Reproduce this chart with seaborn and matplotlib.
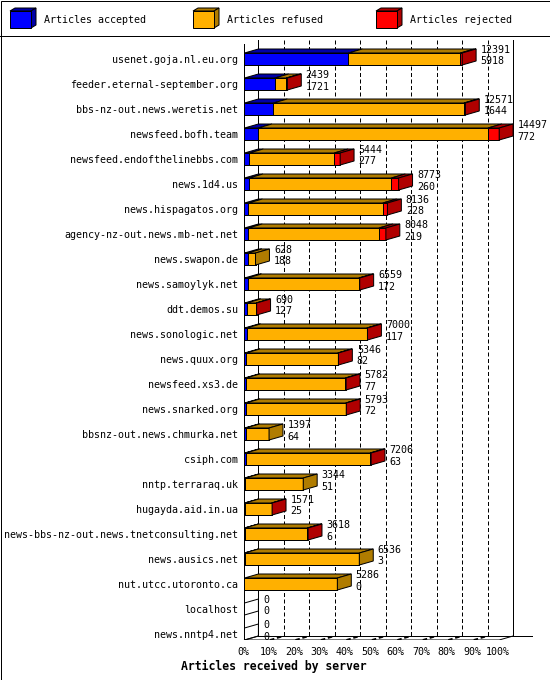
import matplotlib
matplotlib.use('Agg')
import matplotlib.pyplot as plt
import pandas as pd
import seaborn as sns
from matplotlib.patches import Polygon, Rectangle

# innreport style "articles received by server" chart
servers = ['usenet.goja.nl.eu.org', 'feeder.eternal-september.org',
           'bbs-nz-out.news.weretis.net', 'newsfeed.bofh.team',
           'newsfeed.endofthelinebbs.com', 'news.1d4.us', 'news.hispagatos.org',
           'agency-nz-out.news.mb-net.net', 'news.swapon.de', 'news.samoylyk.net',
           'ddt.demos.su', 'news.sonologic.net', 'news.quux.org', 'newsfeed.xs3.de',
           'news.snarked.org', 'bbsnz-out.news.chmurka.net', 'csiph.com',
           'nntp.terraraq.uk', 'hugayda.aid.in.ua',
           'news-bbs-nz-out.news.tnetconsulting.net', 'news.ausics.net',
           'nut.utcc.utoronto.ca', 'localhost', 'news.nntp4.net']
offered = [12391, 2439, 12571, 14497, 5444, 8773, 8136, 8048, 628, 6559, 690, 7000,
           5346, 5782, 5793, 1397, 7206, 3344, 1571, 3618, 6536, 5286, 0, 0]
accepted = [5918, 1721, 1644, 772, 277, 260, 228, 219, 188, 172, 127, 117,
            82, 77, 72, 64, 63, 51, 25, 6, 3, 0, 0, 0]
refused = [6373, 658, 10847, 13085, 4827, 8098, 7643, 7433, 440, 6337, 533, 6843,
           5224, 5665, 5691, 1333, 7083, 3293, 1516, 3572, 6533, 5286, 0, 0]
rejected = [100, 60, 80, 640, 340, 415, 265, 396, 0, 50, 30, 40,
            40, 40, 30, 0, 60, 0, 30, 40, 0, 0, 0, 0]
legend_labels = ['Articles accepted', 'Articles refused', 'Articles rejected']
tick_labels = ['0%', '10%', '20%', '30%', '40%', '50%', '60%', '70%', '80%', '90%', '100%']

front = ['#0000ff', '#ffb000', '#ff0000']
shade = ['#0000a8', '#b07c00', '#b00000']
LW = 0.72

plt.rcParams['font.family'] = 'DejaVu Sans Mono'
plt.rcParams['font.size'] = 7.2

W, H = 550, 680
fig = plt.figure(figsize=(5.5, 6.8), dpi=100)
ax = fig.add_axes([243 / W, (H - 640) / H, 290 / W, 600 / H])

df = pd.DataFrame({'server': servers, 'accepted': accepted,
                   'refused': refused, 'rejected': rejected})
df['acc_ref'] = df['accepted'] + df['refused']
df['all'] = df['acc_ref'] + df['rejected']

# stacked front faces, widest first
for col, c in [('all', front[2]), ('acc_ref', front[1]), ('accepted', front[0])]:
    sns.barplot(data=df, x=col, y='server', order=servers, orient='h', color=c,
                saturation=1, width=0.48, edgecolor='black', linewidth=LW,
                errorbar=None, ax=ax, zorder=3)

xmax = max(offered)
k = xmax / 256.0          # data units per pixel
DX = 14 * k               # 3d depth
DY = -4 / 25.0
half = 0.24
n = len(servers)

# back wall grid
y_top, y_floor_back, y_floor = -0.76, 23.08, 23.24
for j in range(11):
    xb = xmax * j / 10 + DX
    if j in (0, 10):
        ax.plot([xb, xb], [y_top, y_floor_back], color='black', lw=LW, zorder=1)
    else:
        ax.plot([xb, xb], [y_top, y_floor_back], color='black', lw=LW,
                ls=(0, (4, 2.5)), zorder=1)
        xf = xmax * j / 10
        ax.plot([xf, xf + DX], [y_floor, y_floor_back], color='black', lw=1.3,
                ls=(0, (2.5, 1.5)), zorder=1)
ax.plot([0, 0], [-0.6, y_floor], color='black', lw=LW, zorder=4)
ax.plot([0, xmax, xmax + DX], [y_floor, y_floor, y_floor_back], color='black', lw=LW, zorder=1)
ax.plot([0, DX], [y_floor, y_floor_back], color='black', lw=LW, zorder=1)
ax.plot([DX, 289 * k], [y_floor_back, y_floor_back], color='black', lw=LW, zorder=1)

# top and side faces of the bars
for i in range(n):
    segs = [accepted[i], refused[i], rejected[i]]
    yt, yb = i - half, i + half
    x0 = 0
    last = None
    for s, v in enumerate(segs):
        if v > 0:
            x1 = x0 + v
            ax.add_patch(Polygon([(x0, yt), (x1, yt), (x1 + DX, yt + DY), (x0 + DX, yt + DY)],
                                 closed=True, facecolor=shade[s], edgecolor='black',
                                 lw=LW, zorder=3))
            x0 = x1
            last = s
    fc = shade[last] if last is not None else 'none'
    ax.add_patch(Polygon([(x0, yt), (x0 + DX, yt + DY), (x0 + DX, yb + DY), (x0, yb)],
                         closed=True, facecolor=fc, edgecolor='black', lw=LW, zorder=3))
    ax.text(offered[i] + 18.5 * k, i - 0.35, str(offered[i]), ha='left', va='center', zorder=5)
    ax.text(offered[i] + 18.5 * k, i + 0.10, str(accepted[i]), ha='left', va='center', zorder=5)

ax.set_xlim(0, 290 * k)
ax.set_ylim(y_floor, y_top)
ax.set_xticks([xmax * j / 10 - 1.5 * k for j in range(11)], tick_labels)
ax.tick_params(axis='x', length=0, pad=4.8)
ax.tick_params(axis='y', length=0, pad=3.6)
ax.set_xlabel('')
ax.set_ylabel('')
for sp in ax.spines.values():
    sp.set_visible(False)
ax.patch.set_alpha(0)

# overlay in pixel coordinates: frame, legend, axis title
ov = fig.add_axes([0, 0, 1, 1])
ov.set_xlim(0, W)
ov.set_ylim(H, 0)
ov.axis('off')
ov.patch.set_alpha(0)
ov.add_patch(Rectangle((0.5, 0.5), W - 1, H - 1, fill=False, edgecolor='black', lw=LW))
ov.plot([0, W], [35.5, 35.5], color='black', lw=LW)
for lx, lab, fcol, scol in zip([10, 193, 376], legend_labels, front, shade):
    ov.add_patch(Polygon([(lx, 11), (lx + 21, 11), (lx + 26, 8), (lx + 5, 8)],
                         closed=True, facecolor=scol, edgecolor='black', lw=LW))
    ov.add_patch(Polygon([(lx + 21, 11), (lx + 26, 8), (lx + 26, 25), (lx + 21, 28)],
                         closed=True, facecolor=scol, edgecolor='black', lw=LW))
    ov.add_patch(Rectangle((lx, 11), 21, 17, facecolor=fcol, edgecolor='black', lw=LW))
    ov.text(lx + 34, 20, lab, ha='left', va='center')
ov.text(274, 666.5, 'Articles received by server', ha='center', va='center',
        fontsize=8.3, fontweight='bold')

fig.savefig('out.png', dpi=100, facecolor='white')
